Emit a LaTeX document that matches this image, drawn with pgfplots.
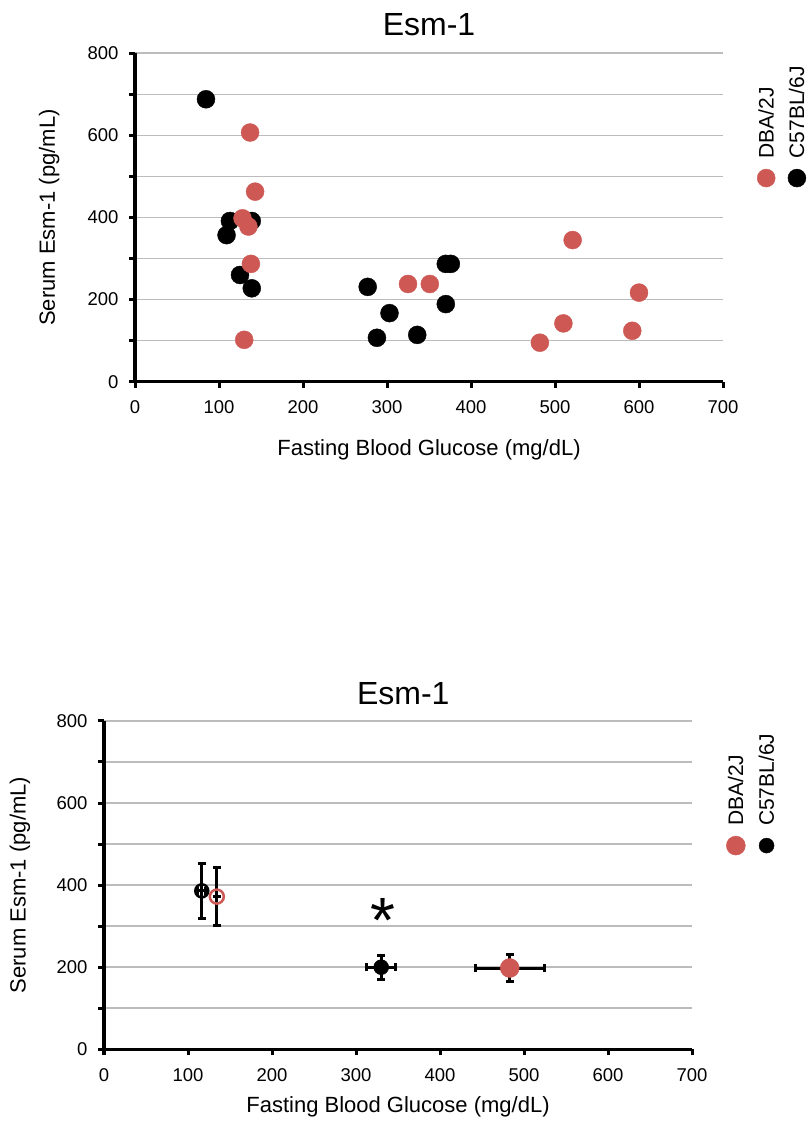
\documentclass[border=0pt]{standalone}
\usepackage{fontspec}
\setmainfont{Liberation Sans}
\usepackage{pgfplots}
\pgfplotsset{compat=1.18}
\definecolor{dbared}{RGB}{205,88,84}
\definecolor{gridgray}{RGB}{188,188,188}

\pgfplotsset{
 esmaxis/.style={
  scale only axis, width=588bp, height=328.4bp,
  xmin=0,xmax=700,ymin=0,ymax=800,
  axis lines=left, axis line style={-, line width=3.5bp, black},
  xtick={0,100,...,700}, ytick={0,200,...,800}, minor ytick={100,300,500,700},
  tick align=outside, major tick length=6bp, minor tick length=6bp,
  every tick/.style={black, line width=3bp},
  ymajorgrids, yminorgrids,
  major grid style={gridgray, line width=1.6bp},
  minor grid style={gridgray, line width=1.6bp},
  tick label style={font=\fontsize{18.5bp}{20bp}\selectfont},
  /pgf/number format/assume math mode=true,
  yticklabel style={xshift=-7bp},
  xticklabel style={yshift=-9.5bp},
  xlabel={Fasting Blood Glucose (mg/dL)},
  ylabel={Serum Esm-1 (pg/mL)},
  label style={font=\fontsize{22bp}{26bp}\selectfont},
  xlabel style={anchor=center},
  ylabel style={anchor=center},
  title={Esm-1},
  title style={font=\fontsize{32bp}{36bp}\selectfont, anchor=center},
  legend columns=2,
  legend style={draw=none, fill=none, anchor=south west, inner sep=0pt,
    column sep=5bp,
    nodes={rotate=90, anchor=west, inner sep=2bp},
    font=\fontsize{21bp}{24bp}\selectfont},
  legend image code/.code={\draw[#1, overlay] plot coordinates {(14.9bp,-17.5bp)};},
 },
 ebars/.style={error bars/.cd, x dir=both, x explicit, y dir=both, y explicit,
  error bar style={line width=3bp, black},
  error mark options={rotate=90, line width=3bp, mark size=4bp, black}},
}

\begin{document}
\begin{tikzpicture}
\path[use as bounding box] (0,0) rectangle (808bp,1128bp);

\begin{axis}[esmaxis, at={(135bp,746.3bp)}, anchor=south west,
  xlabel style={at={(axis description cs:0.5,-0.207)}},
  ylabel style={at={(axis description cs:-0.146,0.5)}},
  title style={at={(axis description cs:0.5,1.07)}},
  reverse legend,
  legend style={at={(axis description cs:1.0478,0.6727)}}]
\addplot[only marks, black, mark=*, mark size=9bp, mark options={draw=black, fill=black}] table {
x y
84.5 688
113 391.5
139 391.5
109 357
125 260
139 227.5
277 231
303 167
288 107
336 114
370 287
376 287
370 189
};
\addlegendentry{C57BL/6J}
\addplot[only marks, dbared, mark=*, mark size=9bp, mark options={draw=dbared, fill=dbared}] table {
x y
137 607
143 463
128 398
135 378
138 287
130 102
325 238
351 238
521 345
510 142
482 95
600 217
592 124
};
\addlegendentry{DBA/2J}
\end{axis}

\begin{axis}[esmaxis, at={(104bp,78.7bp)}, anchor=south west,
  xlabel style={at={(axis description cs:0.5,-0.176)}},
  ylabel style={at={(axis description cs:-0.143,0.5)}},
  title style={at={(axis description cs:0.509,1.066)}},
  legend style={at={(axis description cs:1.0489,0.673)}}]
\addplot[forget plot, only marks, black, mark=o, mark size=6.5bp, mark options={draw=black, fill=none, line width=2.5bp}, ebars]
  table[x=x, y=y, x error=ex, y error=ey] {
x y ex ey
116.4 386 5 67
};
\addplot[forget plot, only marks, dbared, mark=o, mark size=7bp, mark options={draw=dbared, fill=none, line width=2.5bp}, ebars]
  table[x=x, y=y, x error=ex, y error=ey] {
x y ex ey
134.3 372 0 70
};
\addplot[only marks, dbared, mark=*, mark size=9.5bp, mark options={draw=dbared, fill=dbared}, ebars]
  table[x=x, y=y, x error=ex, y error=ey] {
x y ex ey
483 198 41 33
};
\addlegendentry{DBA/2J}
\addplot[only marks, black, mark=*, mark size=7.5bp, mark options={draw=black, fill=black}, ebars]
  table[x=x, y=y, x error=ex, y error=ey] {
x y ex ey
330 200 17 29
};
\addlegendentry{C57BL/6J}
\node[anchor=north, inner sep=0pt, font=\fontsize{64bp}{64bp}\selectfont] at (axis cs:332,368) {*};
\end{axis}
\end{tikzpicture}
\end{document}
